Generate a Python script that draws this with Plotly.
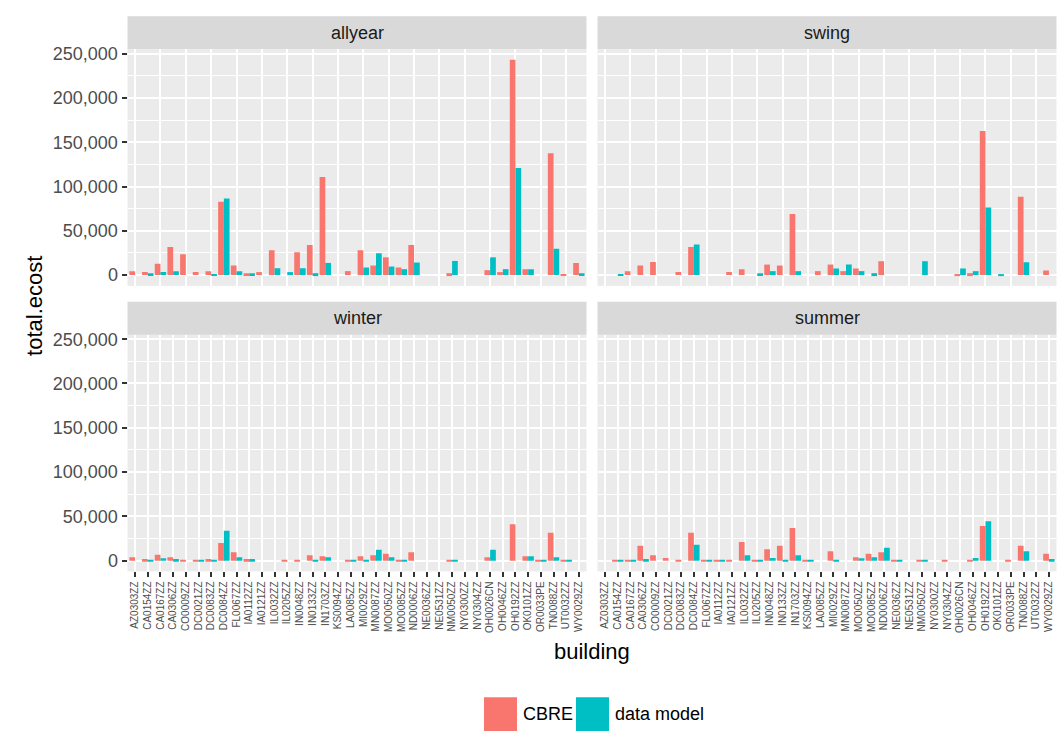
import plotly.graph_objects as go

buildings = ["AZ0303ZZ", "CA0154ZZ", "CA0167ZZ", "CA0306ZZ", "CO0009ZZ", "DC0021ZZ",
             "DC0083ZZ", "DC0084ZZ", "FL0067ZZ", "IA0112ZZ", "IA0121ZZ", "IL0032ZZ",
             "IL0205ZZ", "IN0048ZZ", "IN0133ZZ", "IN1703ZZ", "KS0094ZZ", "LA0085ZZ",
             "MI0029ZZ", "MN0087ZZ", "MO0050ZZ", "MO0085ZZ", "ND0006ZZ", "NE0036ZZ",
             "NE0531ZZ", "NM0050ZZ", "NY0300ZZ", "NY0304ZZ", "OH0026CN", "OH0046ZZ",
             "OH0192ZZ", "OK0101ZZ", "OR0033PE", "TN0088ZZ", "UT0032ZZ", "WY0029ZZ"]

allyear_cbre = [4500, 3400, 12700, 31700, 23500, 3400, 4500, 82800, 10800, 2200, 3400, 28000,
                None, 25700, 33900, 110800, None, 4500, 28000, 10800, 20100, 8600, 33900, None,
                None, 2200, None, None, 5600, 3400, 243000, 6700, None, 137600, 1100, 13800]
allyear_model = [None, 2200, 3400, 4500, None, None, 1100, 86500, 4500, 2200, None, 7800,
                 3400, 7800, 2200, 13800, None, None, 8600, 24600, 9700, 6700, 14200, None,
                 None, 16000, None, None, 20100, 6700, 120800, 6700, None, 29800, None, 2200]

swing_cbre = [None, None, 4500, 10800, 14900, None, 3400, 31700, None, None, 3400, 6700,
              None, 11900, 10800, 69000, None, 4500, 11900, 4500, 7500, None, 15700, None,
              None, None, None, None, 1100, 2200, 162600, None, None, 88600, None, 5200]
swing_model = [None, 1100, None, None, None, None, None, 34700, None, None, None, None,
               2200, 4500, None, 4500, None, None, 7500, 12000, 4500, 2200, None, None,
               None, 15700, None, None, 7500, 4500, 76200, 1100, None, 14600, None, None]

winter_cbre = [3800, 1900, 6800, 3800, 800, 800, 1900, 19900, 9400, 1900, None, None,
               800, 800, 6000, 4900, None, 800, 4900, 6000, 7900, 800, 9400, None,
               None, 800, None, None, 3800, None, 41000, 4900, 800, 31600, 800, None]
winter_model = [None, 800, 2600, 1900, None, 800, 800, 33800, 3800, 1900, None, None,
                None, None, 1100, 3800, None, 800, 800, 12400, 3800, 800, None, None,
                None, 800, None, None, 12400, None, None, 4900, 800, 3800, 800, None]

summer_cbre = [None, 800, 800, 16900, 6000, 3000, 800, 31600, 800, 800, 800, 21000,
               800, 12800, 16900, 36800, 800, None, 10500, None, 3800, 7900, 9400, 800,
               None, 800, None, 800, None, 800, 39000, None, 800, 16900, None, 7900]
summer_model = [None, 800, 800, 1900, None, None, None, 18000, 800, 800, None, 6000,
                800, 3000, 800, 6000, 800, None, 800, None, 2600, 3800, 14700, 800,
                None, 800, None, None, None, 3000, 44400, None, None, 10500, None, 1900]

facets = ["allyear", "swing", "winter", "summer"]
series_names = ["CBRE", "data model"]
colors = ["#F8766D", "#00BFC4"]
data = {
    "allyear": (allyear_cbre, allyear_model),
    "swing": (swing_cbre, swing_model),
    "winter": (winter_cbre, winter_model),
    "summer": (summer_cbre, summer_model),
}

W, H = 1063, 735
FONT = "Liberation Sans, Arial, sans-serif"


def px_x(v):
    return v / W


def px_y(v):
    return 1 - v / H


# panel geometry in pixels (left, right, top, bottom)
cols = [(127.5, 586.5), (597.5, 1056.5)]
rows = [(44.4, 282.8), (331.9, 570.3)]
strip_h = 33.0

fig = go.Figure()
layout_axes = {}
shapes = []
annotations = []

for k, facet in enumerate(facets):
    r, c = divmod(k, 2)
    idx = k + 1
    xa = "x" if idx == 1 else f"x{idx}"
    ya = "y" if idx == 1 else f"y{idx}"
    xname = "xaxis" if idx == 1 else f"xaxis{idx}"
    yname = "yaxis" if idx == 1 else f"yaxis{idx}"
    (x0, x1), (y0, y1) = cols[c], rows[r]

    for s in range(2):
        fig.add_trace(go.Bar(
            x=buildings, y=data[facet][s], name=series_names[s],
            marker=dict(color=colors[s], line=dict(width=0)),
            xaxis=xa, yaxis=ya, showlegend=False,
        ))

    bottom = (r == 1)
    layout_axes[xname] = dict(
        domain=[px_x(x0), px_x(x1)], anchor=ya, type="category",
        categoryorder="array", categoryarray=buildings,
        range=[-0.6, 35.6], showgrid=True, gridcolor="white", gridwidth=2,
        zeroline=False, showline=False,
        showticklabels=bottom, ticks="outside" if bottom else "",
        ticklen=5, tickwidth=1.6, tickcolor="#333333",
        tickangle=-90, tickfont=dict(family=FONT, size=10, color="#4D4D4D"),
    )
    left = (c == 0)
    layout_axes[yname] = dict(
        domain=[px_y(y1), px_y(y0)], anchor=xa,
        range=[-12150, 255150], tick0=0, dtick=50000, tickformat=",d",
        showgrid=True, gridcolor="white", gridwidth=2,
        minor=dict(dtick=25000, tick0=0, showgrid=True, gridcolor="white", gridwidth=1),
        zeroline=False, showline=False,
        showticklabels=left, ticks="outside" if left else "",
        ticklen=5, tickwidth=1.6, tickcolor="#333333",
        tickfont=dict(family=FONT, size=18, color="#4D4D4D"),
    )
    # strip
    shapes.append(dict(type="rect", xref="paper", yref="paper",
                       x0=px_x(x0), x1=px_x(x1), y0=px_y(y0), y1=px_y(y0 - strip_h),
                       fillcolor="#D9D9D9", line=dict(width=0), layer="below"))
    annotations.append(dict(text=facet, xref="paper", yref="paper",
                            x=px_x((x0 + x1) / 2), y=px_y(y0 - strip_h / 2),
                            xanchor="center", yanchor="middle", showarrow=False,
                            font=dict(family=FONT, size=18, color="#1A1A1A")))

# axis titles
annotations.append(dict(text="building", xref="paper", yref="paper",
                        x=px_x(592), y=px_y(651), xanchor="center", yanchor="middle",
                        showarrow=False, font=dict(family=FONT, size=22, color="black")))
annotations.append(dict(text="total.ecost", xref="paper", yref="paper",
                        x=px_x(35), y=px_y(303), xanchor="center", yanchor="middle",
                        textangle=-90, showarrow=False,
                        font=dict(family=FONT, size=22, color="black")))

# legend (keys + labels)
legend_items = [(484, 517, 521, series_names[0], colors[0]),
                (576, 609, 613, series_names[1], colors[1])]
for kx0, kx1, tx, label, col in legend_items:
    shapes.append(dict(type="rect", xref="paper", yref="paper",
                       x0=px_x(kx0), x1=px_x(kx1), y0=px_y(731), y1=px_y(697),
                       fillcolor=col, line=dict(width=0)))
    annotations.append(dict(text=label, xref="paper", yref="paper",
                            x=px_x(tx), y=px_y(714), xanchor="left", yanchor="middle",
                            showarrow=False, font=dict(family=FONT, size=18, color="black")))

fig.update_layout(
    width=W, height=H, autosize=False,
    margin=dict(l=0, r=0, t=0, b=0),
    paper_bgcolor="white", plot_bgcolor="#EBEBEB",
    barmode="group", bargap=0.1, bargroupgap=0,
    showlegend=False, shapes=shapes, annotations=annotations,
    font=dict(family=FONT),
    **layout_axes,
)

fig.write_html(
    "out.html",
    config={"displayModeBar": False},
    post_script="document.body.style.margin='0';document.body.style.padding='0';"
                "document.body.style.overflow='hidden';",
)
